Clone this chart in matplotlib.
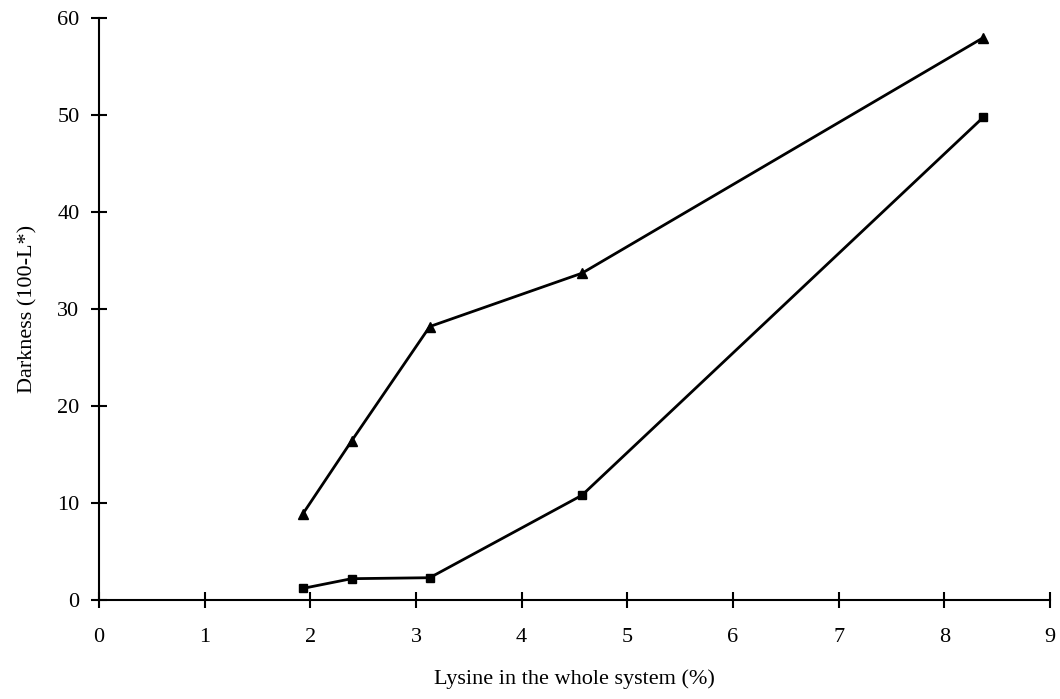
import matplotlib
matplotlib.use('Agg')
import matplotlib.pyplot as plt

# data
lysine = [1.93, 2.39, 3.13, 4.57, 8.37]
dark_tri = [8.9, 16.4, 28.2, 33.7, 58.0]
dark_sq = [1.2, 2.2, 2.3, 10.8, 49.8]
x_ticks = list(range(0, 10))
y_ticks = list(range(0, 70, 10))

plt.rcParams['font.family'] = ['Liberation Serif', 'DejaVu Serif']

fig = plt.figure(figsize=(10.6, 6.99), dpi=100)
ax = fig.add_axes([0.0934, 0.1416, 0.8972, 0.8324])

ax.plot(lysine, dark_tri, color='black', lw=2, marker='^', ms=7)
ax.plot(lysine, dark_sq, color='black', lw=2, marker='s', ms=6)

ax.set_xlim(0, 9)
ax.set_ylim(0, 60)
ax.set_xticks(x_ticks)
ax.set_yticks(y_ticks)
ax.spines['top'].set_visible(False)
ax.spines['right'].set_visible(False)
for s in ('left', 'bottom'):
    ax.spines[s].set_linewidth(1.5)
ax.tick_params(direction='inout', length=12, width=1.5, labelsize=16, pad=8)
ax.tick_params(axis='x', pad=14)

ax.set_xlabel('Lysine in the whole system (%)', fontsize=16, labelpad=16)
ax.set_ylabel('Darkness (100-L*)', fontsize=16, labelpad=14)

fig.savefig('out.png', dpi=100)
